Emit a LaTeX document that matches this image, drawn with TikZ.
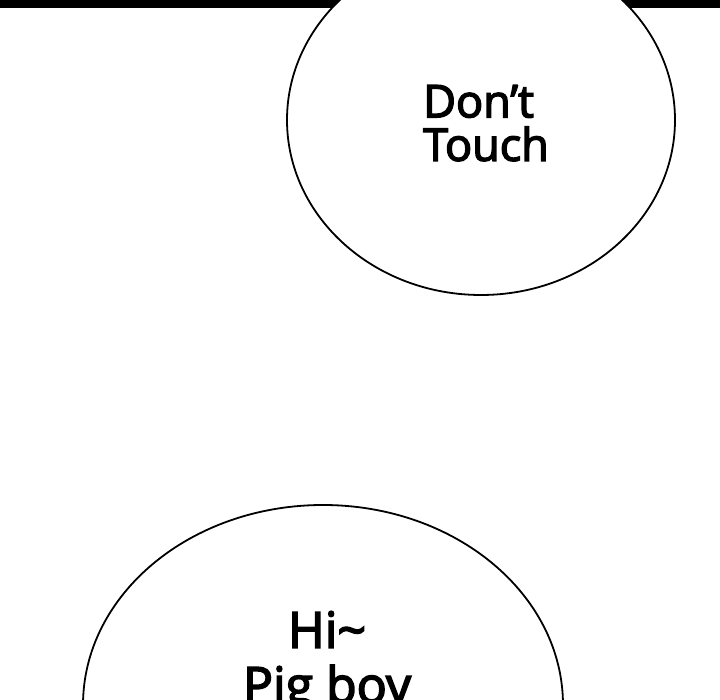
\documentclass[tikz,border=0pt]{standalone}
\usepackage{fontspec}
\setmainfont{Open Sans}
\newfontfamily\speechfont[FakeBold=3.2]{Open Sans}
\usetikzlibrary{shapes.geometric}
\usepackage{xcolor}
\colorlet{inkblack}{black}

\begin{document}
\begin{tikzpicture}[x=1pt,y=-1pt,
    bubble/.style={ellipse,draw=inkblack,fill=white,line width=1.8pt,inner sep=0pt},
    speech/.style={inner sep=0pt,align=center,text=inkblack}]
    \useasboundingbox (0,0) rectangle (720,700);
    \fill[white] (0,0) rectangle (720,700);

    \fill[inkblack] (0,0) rectangle (720,8.5);

    \node[bubble,minimum width=388pt,minimum height=350pt] (T) at (481,120) {};
    \node[speech,font=\speechfont\fontsize{45}{43.5}\selectfont,align=left,anchor=north west] (Tt) at (423,85) {Don’t\\Touch};

    \node[bubble,minimum width=480pt,minimum height=400pt] (H) at (323,705) {};
    \node[speech,font=\speechfont\fontsize{50}{55}\selectfont,anchor=north] (Ht) at (327,611) {Hi\char`\~\\Pig boy};
\end{tikzpicture}
\end{document}
